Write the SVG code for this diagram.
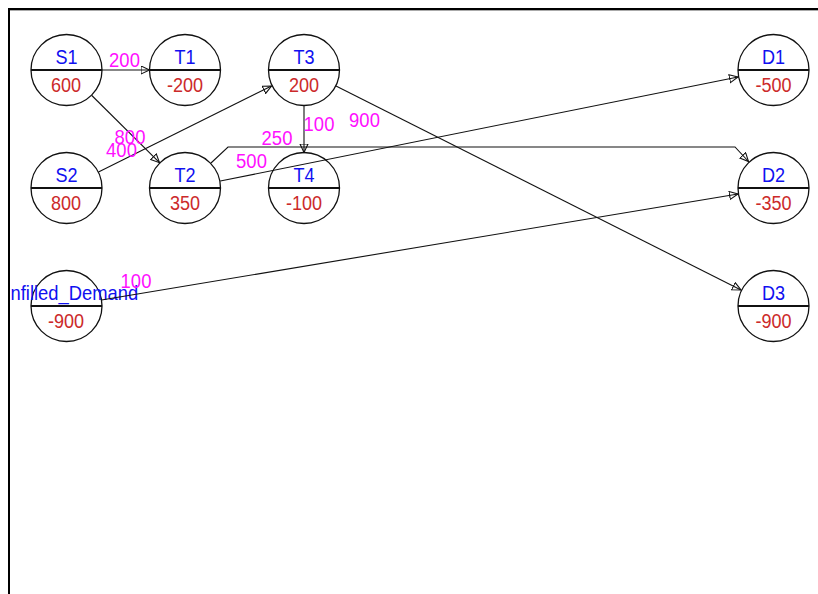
<svg xmlns="http://www.w3.org/2000/svg" width="818" height="594" viewBox="0 0 818 594">
<style>
.c{fill:none;stroke:#111;stroke-width:1.3}
.dv{stroke:#111;stroke-width:1.8}
.n{font-family:"Liberation Sans",Arial,sans-serif;font-size:21px;fill:#1010F0;text-anchor:middle}
.v{font-family:"Liberation Sans",Arial,sans-serif;font-size:21px;fill:#CC2A2A;text-anchor:middle}
.l{font-family:"Liberation Sans",Arial,sans-serif;font-size:21px;fill:#FF10FF;text-anchor:middle}
.e{fill:none;stroke:#111;stroke-width:1.1}
</style>
<defs>
<marker id="ah" markerUnits="userSpaceOnUse" markerWidth="12" markerHeight="12" refX="9" refY="4.5" orient="auto">
<path d="M0.5,0.5 L9,4.5 L0.5,8.5 Z" fill="none" stroke="#111" stroke-width="1.1"/>
</marker>
</defs>
<rect width="818" height="594" fill="#fff"/>
<g id="nodes">
<g id="S1"><circle class="c" cx="66.5" cy="70" r="35.5"/><line class="dv" x1="31" y1="70" x2="102" y2="70"/><text class="n" transform="translate(66.5,63.7) scale(0.86,1)">S1</text><text class="v" transform="translate(66,92) scale(0.86,1)">600</text></g>
<g id="T1"><circle class="c" cx="185" cy="70" r="35.5"/><line class="dv" x1="149.5" y1="70" x2="220.5" y2="70"/><text class="n" transform="translate(185,63.7) scale(0.86,1)">T1</text><text class="v" transform="translate(185,92) scale(0.86,1)">-200</text></g>
<g id="T3"><circle class="c" cx="304" cy="70" r="35.5"/><line class="dv" x1="268.5" y1="70" x2="339.5" y2="70"/><text class="n" transform="translate(304,63.7) scale(0.86,1)">T3</text><text class="v" transform="translate(304,92) scale(0.86,1)">200</text></g>
<g id="S2"><circle class="c" cx="66.5" cy="188" r="35.5"/><line class="dv" x1="31" y1="188" x2="102" y2="188"/><text class="n" transform="translate(66.5,181.7) scale(0.86,1)">S2</text><text class="v" transform="translate(66,210) scale(0.86,1)">800</text></g>
<g id="T2"><circle class="c" cx="185" cy="188" r="35.5"/><line class="dv" x1="149.5" y1="188" x2="220.5" y2="188"/><text class="n" transform="translate(185,181.7) scale(0.86,1)">T2</text><text class="v" transform="translate(185,210) scale(0.86,1)">350</text></g>
<g id="T4"><circle class="c" cx="304" cy="188" r="35.5"/><line class="dv" x1="268.5" y1="188" x2="339.5" y2="188"/><text class="n" transform="translate(304,181.7) scale(0.86,1)">T4</text><text class="v" transform="translate(304,210) scale(0.86,1)">-100</text></g>
<g id="Unfilled_Demand"><circle class="c" cx="66.5" cy="306" r="35.5"/><line class="dv" x1="31" y1="306" x2="102" y2="306"/><text class="n" style="text-anchor:start" transform="translate(10.5,299.7) scale(0.875,1)">nfilled_Demand</text><text class="v" transform="translate(66,328) scale(0.86,1)">-900</text></g>
<g id="D1"><circle class="c" cx="773.5" cy="70" r="35.5"/><line class="dv" x1="738" y1="70" x2="809" y2="70"/><text class="n" transform="translate(773.5,63.7) scale(0.86,1)">D1</text><text class="v" transform="translate(773.5,92) scale(0.86,1)">-500</text></g>
<g id="D2"><circle class="c" cx="773.5" cy="188" r="35.5"/><line class="dv" x1="738" y1="188" x2="809" y2="188"/><text class="n" transform="translate(773.5,181.7) scale(0.86,1)">D2</text><text class="v" transform="translate(773.5,210) scale(0.86,1)">-350</text></g>
<g id="D3"><circle class="c" cx="773.5" cy="306" r="35.5"/><line class="dv" x1="738" y1="306" x2="809" y2="306"/><text class="n" transform="translate(773.5,299.7) scale(0.86,1)">D3</text><text class="v" transform="translate(773.5,328) scale(0.86,1)">-900</text></g>
</g>
<g id="connectors">
<line class="e" x1="102" y1="70" x2="149.5" y2="70" marker-end="url(#ah)"/>
<line class="e" x1="91.8" y1="95.5" x2="159.5" y2="162.7" marker-end="url(#ah)"/>
<line class="e" x1="98.5" y1="172" x2="271.5" y2="86" marker-end="url(#ah)"/>
<line class="e" x1="304" y1="105.5" x2="304" y2="152.5" marker-end="url(#ah)"/>
<line class="e" x1="336" y1="86" x2="741" y2="290" marker-end="url(#ah)"/>
<line class="e" x1="220.3" y1="181" x2="738" y2="77" marker-end="url(#ah)"/>
<line class="e" x1="101.5" y1="300" x2="738" y2="194" marker-end="url(#ah)"/>
<polyline class="e" points="211,163 228,147 735,147 748.5,161.5" marker-end="url(#ah)"/>
<text class="l" transform="translate(124.5,67) scale(0.88,1)">200</text>
<text class="l" transform="translate(130,144) scale(0.88,1)">800</text>
<text class="l" transform="translate(121.5,157) scale(0.88,1)">400</text>
<text class="l" transform="translate(319,131) scale(0.88,1)">100</text>
<text class="l" transform="translate(364.5,127) scale(0.88,1)">900</text>
<text class="l" transform="translate(277,145) scale(0.88,1)">250</text>
<text class="l" transform="translate(251.5,168) scale(0.88,1)">500</text>
<text class="l" transform="translate(136,288) scale(0.88,1)">100</text>
</g>
<g id="frame">
<line x1="10" y1="10.5" x2="818" y2="10.5" stroke="#aaa" stroke-width="1"/>
<line x1="8" y1="9" x2="818" y2="9" stroke="#000" stroke-width="2"/>
<line x1="9" y1="8" x2="9" y2="594" stroke="#000" stroke-width="2"/>
</g>
</svg>
